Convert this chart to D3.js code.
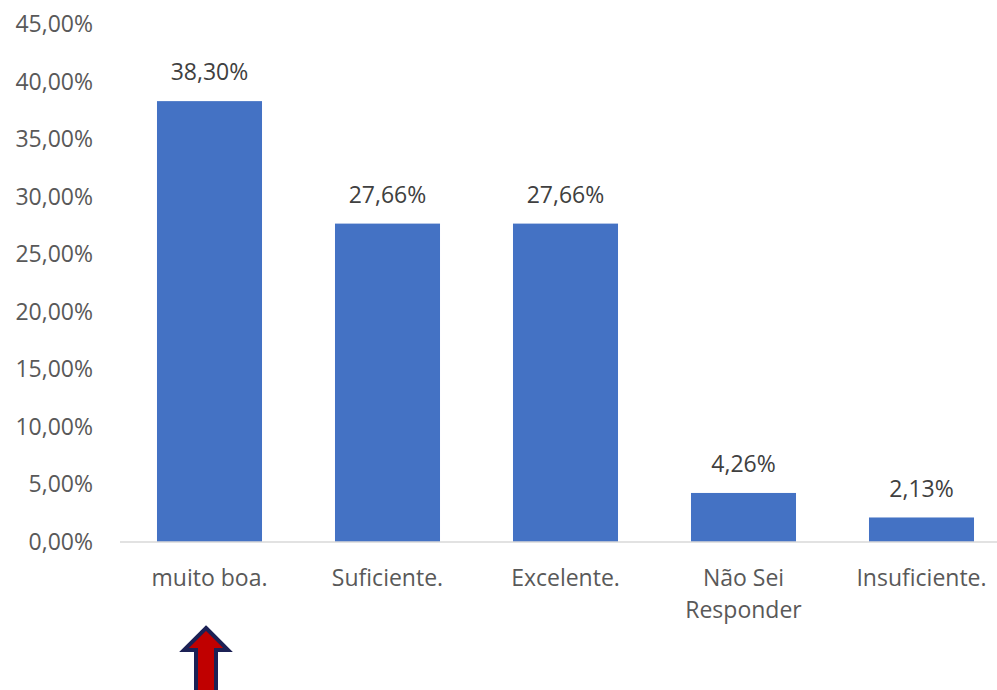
<!DOCTYPE html>
<html><head><meta charset="utf-8">
<script src="https://cdn.jsdelivr.net/npm/d3@7"></script>
<style>html,body{margin:0;padding:0;background:#fff;}svg{display:block;}</style>
</head><body>
<svg id="c" width="997" height="690"></svg>
<script>
const categories = ["muito boa.", "Suficiente.", "Excelente.", "Não Sei\nResponder", "Insuficiente."];
const values = [38.30, 27.66, 27.66, 4.26, 2.13];
const yTicks = [0, 5, 10, 15, 20, 25, 30, 35, 40, 45];
const fmt = v => v.toFixed(2).replace(".", ",") + "%";

const svg = d3.select("#c");
const font = "'Open Sans', sans-serif";
const textColor = "#595959";
const fs = 23;

const x = d3.scaleBand().domain(categories).range([120.5, 1010.5]).paddingInner(0.41).paddingOuter(0.205);
const y = d3.scaleLinear().domain([0, 45]).range([542, 24]);

// y tick labels
svg.append("g").selectAll("text").data(yTicks).join("text")
  .attr("x", 93).attr("y", d => y(d)).attr("dy", "0.35em")
  .attr("text-anchor", "end").attr("font-family", font).attr("font-size", fs)
  .attr("fill", textColor).text(d => fmt(d));

// bars
svg.append("g").selectAll("rect").data(values).join("rect")
  .attr("x", (d, i) => x(categories[i])).attr("width", x.bandwidth())
  .attr("y", d => y(d)).attr("height", d => y(0) - y(d))
  .attr("fill", "#4472c4");

// baseline
svg.append("line").attr("x1", 120).attr("x2", 997).attr("y1", y(0)).attr("y2", y(0))
  .attr("stroke", "#d9d9d9").attr("stroke-width", 1.5);

// data labels
svg.append("g").selectAll("text").data(values).join("text")
  .attr("x", (d, i) => x(categories[i]) + x.bandwidth() / 2)
  .attr("y", d => y(d) - 29).attr("dy", "0.35em")
  .attr("text-anchor", "middle").attr("font-family", font).attr("font-size", fs)
  .attr("fill", "#404040").text(d => fmt(d));

// category labels
const cl = svg.append("g").selectAll("text").data(categories).join("text")
  .attr("x", d => x(d) + x.bandwidth() / 2)
  .attr("y", 578)
  .attr("text-anchor", "middle").attr("font-family", font).attr("font-size", fs)
  .attr("fill", textColor);
cl.each(function(d) {
  const lines = d.split("\n");
  d3.select(this).selectAll("tspan").data(lines).join("tspan")
    .attr("x", x(d) + x.bandwidth() / 2)
    .attr("dy", (l, i) => i === 0 ? "0.35em" : "1.4em")
    .text(l => l);
});

// arrow annotation under first category
const cx = x(categories[0]) + x.bandwidth() / 2 - 3.5;
const tipY = 628, baseY = 650, halfHead = 22, halfShaft = 10;
const p = d3.path();
p.moveTo(cx, tipY);
p.lineTo(cx + halfHead, baseY);
p.lineTo(cx + halfShaft, baseY);
p.lineTo(cx + halfShaft, 700);
p.lineTo(cx - halfShaft, 700);
p.lineTo(cx - halfShaft, baseY);
p.lineTo(cx - halfHead, baseY);
p.closePath();
svg.append("path").attr("d", p.toString())
  .attr("fill", "#c00000").attr("stroke", "#1c2155").attr("stroke-width", 4)
  .attr("stroke-linejoin", "miter");
</script>
</body></html>
